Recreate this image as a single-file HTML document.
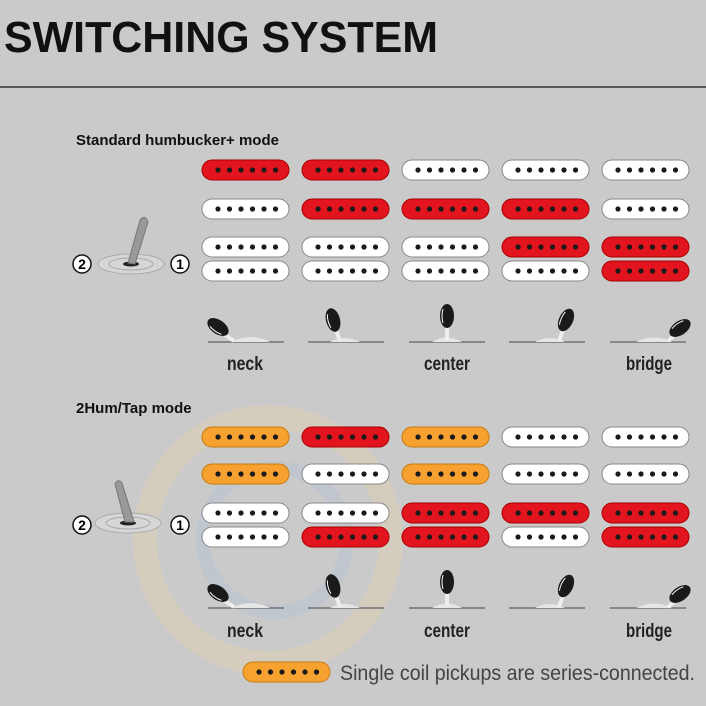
<!DOCTYPE html>
<html><head><style>
html,body{margin:0;padding:0;background:#cacaca;width:706px;height:706px;overflow:hidden}
svg{display:block}
</style></head><body>
<svg width="706" height="706" viewBox="0 0 706 706" xmlns="http://www.w3.org/2000/svg">
<defs>
<g id="dots" fill="#1a1a1a"><circle cx="16" cy="10" r="2.6"/><circle cx="27.5" cy="10" r="2.6"/><circle cx="39" cy="10" r="2.6"/><circle cx="50.5" cy="10" r="2.6"/><circle cx="62" cy="10" r="2.6"/><circle cx="73.5" cy="10" r="2.6"/></g>
<g id="W"><rect x="0" y="0" width="87" height="20" rx="10" fill="#fff" stroke="#888" stroke-width="1"/><use href="#dots"/></g>
<g id="R"><rect x="0" y="0" width="87" height="20" rx="10" fill="#e2141e" stroke="#a00" stroke-width="1"/><use href="#dots"/></g>
<g id="O"><rect x="0" y="0" width="87" height="20" rx="10" fill="#f7a230" stroke="#c77a10" stroke-width="1"/><use href="#dots"/></g>
<g id="base"><line x1="0" y1="0" x2="76" y2="0" stroke="#888" stroke-width="2"/></g>
<g id="tip"><ellipse cx="0" cy="0" rx="7" ry="12" fill="#1a1a1a"/><path d="M-4 -7 Q-6 0 -4 7" fill="none" stroke="#fff" stroke-width="1"/></g>
<g id="big"><ellipse cx="0" cy="0" rx="33" ry="10" fill="#d6d6d6" stroke="#aaa"/><ellipse cx="0" cy="0" rx="22" ry="6" fill="none" stroke="#aaa"/><ellipse cx="0" cy="0" rx="8" ry="2.5" fill="#222"/></g>
</defs>

<text x="4" y="52" font-family="Liberation Sans, sans-serif" font-weight="bold" font-size="44" fill="#111" textLength="434" lengthAdjust="spacingAndGlyphs">SWITCHING SYSTEM</text>
<line x1="0" y1="87" x2="706" y2="87" stroke="#333" stroke-width="1.5"/>

<!-- watermark -->
<circle cx="268" cy="540" r="123" fill="none" stroke="#d9cfb9" stroke-width="24" opacity="0.7"/>
<circle cx="275" cy="540" r="72" fill="none" stroke="#b8c3cf" stroke-width="14" opacity="0.6"/>

<text x="76" y="145" font-family="Liberation Sans, sans-serif" font-weight="bold" font-size="15" fill="#111">Standard humbucker+ mode</text>
<text x="76" y="413" font-family="Liberation Sans, sans-serif" font-weight="bold" font-size="15" fill="#111">2Hum/Tap mode</text>

<use href="#R" x="202" y="160"/><use href="#R" x="302" y="160"/><use href="#W" x="402" y="160"/><use href="#W" x="502" y="160"/><use href="#W" x="602" y="160"/>
<use href="#W" x="202" y="199"/><use href="#R" x="302" y="199"/><use href="#R" x="402" y="199"/><use href="#R" x="502" y="199"/><use href="#W" x="602" y="199"/>
<use href="#W" x="202" y="237"/><use href="#W" x="302" y="237"/><use href="#W" x="402" y="237"/><use href="#R" x="502" y="237"/><use href="#R" x="602" y="237"/>
<use href="#W" x="202" y="261"/><use href="#W" x="302" y="261"/><use href="#W" x="402" y="261"/><use href="#W" x="502" y="261"/><use href="#R" x="602" y="261"/>

<use href="#O" x="202" y="427"/><use href="#R" x="302" y="427"/><use href="#O" x="402" y="427"/><use href="#W" x="502" y="427"/><use href="#W" x="602" y="427"/>
<use href="#O" x="202" y="464"/><use href="#W" x="302" y="464"/><use href="#O" x="402" y="464"/><use href="#W" x="502" y="464"/><use href="#W" x="602" y="464"/>
<use href="#W" x="202" y="503"/><use href="#W" x="302" y="503"/><use href="#R" x="402" y="503"/><use href="#R" x="502" y="503"/><use href="#R" x="602" y="503"/>
<use href="#W" x="202" y="527"/><use href="#R" x="302" y="527"/><use href="#R" x="402" y="527"/><use href="#W" x="502" y="527"/><use href="#R" x="602" y="527"/>

<g font-family="Liberation Sans, sans-serif" font-weight="bold" font-size="14" text-anchor="middle">
<circle cx="82" cy="264" r="9" fill="#fff" stroke="#111" stroke-width="1.5"/><text x="82" y="269">2</text>
<circle cx="180" cy="264" r="9" fill="#fff" stroke="#111" stroke-width="1.5"/><text x="180" y="269">1</text>
<circle cx="82" cy="525" r="9" fill="#fff" stroke="#111" stroke-width="1.5"/><text x="82" y="530">2</text>
<circle cx="180" cy="525" r="9" fill="#fff" stroke="#111" stroke-width="1.5"/><text x="180" y="530">1</text>
</g>
<use href="#big" x="131" y="264"/>
<path d="M128 263 L140 220 Q145 214 148 222 L135 264 Z" fill="#999" stroke="#777"/>
<use href="#big" x="128" y="523"/>
<path d="M125 522 L115 484 Q118 478 122 483 L134 522 Z" fill="#999" stroke="#777"/>

<g>
<use href="#base" x="208" y="342"/><path d="M232 342 Q250 332 270 342" fill="#e6e6e6"/><path d="M222 333 L234 341" stroke="#eee" stroke-width="4"/><use href="#tip" x="218" y="327" transform="rotate(-55 218 327)"/>
<use href="#base" x="308" y="342"/><path d="M330 342 Q345 334 360 342" fill="#e6e6e6"/><path d="M336 330 L340 341" stroke="#eee" stroke-width="4"/><use href="#tip" x="333" y="320" transform="rotate(-15 333 320)"/>
<use href="#base" x="409" y="342"/><path d="M432 342 Q447 333 462 342" fill="#e6e6e6"/><path d="M447 326 L447 340" stroke="#eee" stroke-width="4"/><use href="#tip" x="447" y="316"/>
<use href="#base" x="509" y="342"/><path d="M535 342 Q550 334 565 342" fill="#e6e6e6"/><path d="M563 330 L559 341" stroke="#eee" stroke-width="4"/><use href="#tip" x="566" y="320" transform="rotate(25 566 320)"/>
<use href="#base" x="610" y="342"/><path d="M636 342 Q655 333 672 342" fill="#e6e6e6"/><path d="M676 334 L668 341" stroke="#eee" stroke-width="4"/><use href="#tip" x="680" y="328" transform="rotate(55 680 328)"/>
</g>
<g transform="translate(0,266)">
<use href="#base" x="208" y="342"/><path d="M232 342 Q250 332 270 342" fill="#e6e6e6"/><path d="M222 333 L234 341" stroke="#eee" stroke-width="4"/><use href="#tip" x="218" y="327" transform="rotate(-55 218 327)"/>
<use href="#base" x="308" y="342"/><path d="M330 342 Q345 334 360 342" fill="#e6e6e6"/><path d="M336 330 L340 341" stroke="#eee" stroke-width="4"/><use href="#tip" x="333" y="320" transform="rotate(-15 333 320)"/>
<use href="#base" x="409" y="342"/><path d="M432 342 Q447 333 462 342" fill="#e6e6e6"/><path d="M447 326 L447 340" stroke="#eee" stroke-width="4"/><use href="#tip" x="447" y="316"/>
<use href="#base" x="509" y="342"/><path d="M535 342 Q550 334 565 342" fill="#e6e6e6"/><path d="M563 330 L559 341" stroke="#eee" stroke-width="4"/><use href="#tip" x="566" y="320" transform="rotate(25 566 320)"/>
<use href="#base" x="610" y="342"/><path d="M636 342 Q655 333 672 342" fill="#e6e6e6"/><path d="M676 334 L668 341" stroke="#eee" stroke-width="4"/><use href="#tip" x="680" y="328" transform="rotate(55 680 328)"/>
</g>

<g font-family="Liberation Sans, sans-serif" font-weight="bold" font-size="19" fill="#222" text-anchor="middle">
<text x="245" y="370" textLength="36" lengthAdjust="spacingAndGlyphs">neck</text>
<text x="447" y="370" textLength="46" lengthAdjust="spacingAndGlyphs">center</text>
<text x="649" y="370" textLength="46" lengthAdjust="spacingAndGlyphs">bridge</text>
<text x="245" y="637" textLength="36" lengthAdjust="spacingAndGlyphs">neck</text>
<text x="447" y="637" textLength="46" lengthAdjust="spacingAndGlyphs">center</text>
<text x="649" y="637" textLength="46" lengthAdjust="spacingAndGlyphs">bridge</text>
</g>

<use href="#O" x="243" y="662"/>
<text x="340" y="680" font-family="Liberation Sans, sans-serif" font-size="21" fill="#444" textLength="355" lengthAdjust="spacingAndGlyphs">Single coil pickups are series-connected.</text>
</svg>
</body></html>
